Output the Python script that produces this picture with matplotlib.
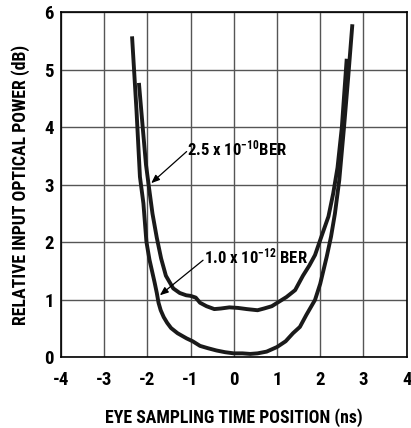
import matplotlib
matplotlib.use('Agg')
import matplotlib.pyplot as plt

fams = ['Roboto Condensed', 'Archivo Narrow', 'Liberation Sans Narrow', 'Liberation Sans', 'DejaVu Sans']
plt.rcParams['font.family'] = fams
plt.rcParams['font.weight'] = 'heavy'
plt.rcParams['axes.labelweight'] = 'heavy'
plt.rcParams['axes.unicode_minus'] = False
plt.rcParams['mathtext.fontset'] = 'custom'
plt.rcParams['mathtext.rm'] = 'Roboto Condensed:heavy'
plt.rcParams['mathtext.default'] = 'rm'

# 2.5e-10 BER curve
x_ber10 = [-2.19, -2.10, -2.03, -1.96, -1.88, -1.78, -1.68, -1.57, -1.40, -1.25,
           -1.10, -1.00, -0.88, -0.78, -0.63, -0.45, -0.30, -0.10, 0.10, 0.30,
           0.55, 0.70, 0.88, 1.05, 1.22, 1.42, 1.60, 1.75, 1.88, 2.05, 2.19,
           2.30, 2.40, 2.50, 2.61]
y_ber10 = [4.74, 3.95, 3.35, 2.95, 2.50, 2.08, 1.72, 1.42, 1.20, 1.12,
           1.08, 1.07, 1.04, 0.95, 0.89, 0.84, 0.85, 0.87, 0.86, 0.84,
           0.82, 0.85, 0.89, 0.97, 1.05, 1.17, 1.42, 1.60, 1.78, 2.15, 2.45,
           2.85, 3.30, 4.00, 5.16]

# 1.0e-12 BER curve
x_ber12 = [-2.35, -2.25, -2.17, -2.09, -2.02, -1.95, -1.89, -1.83, -1.78, -1.74,
           -1.69, -1.62, -1.54, -1.45, -1.30, -1.09, -0.95, -0.78, -0.60, -0.40,
           -0.20, 0.00, 0.20, 0.38, 0.55, 0.76, 1.00, 1.20, 1.37, 1.53, 1.68,
           1.88, 2.00, 2.15, 2.25, 2.34, 2.44, 2.55, 2.65, 2.74]
y_ber12 = [5.55, 4.30, 3.14, 2.68, 2.01, 1.70, 1.50, 1.30, 1.12, 0.95,
           0.82, 0.70, 0.60, 0.51, 0.42, 0.33, 0.28, 0.20, 0.16, 0.12,
           0.09, 0.07, 0.07, 0.06, 0.07, 0.10, 0.18, 0.28, 0.42, 0.53, 0.74,
           1.00, 1.28, 1.75, 2.10, 2.50, 3.08, 4.00, 4.90, 5.76]

xticks = [-4, -3, -2, -1, 0, 1, 2, 3, 4]
yticks = [0, 1, 2, 3, 4, 5, 6]

fig = plt.figure(figsize=(4.11, 4.28), dpi=100)
ax = fig.add_axes([0.148, 0.165, 0.8415, 0.806])
ax.set_xlim(-4, 4)
ax.set_ylim(0, 6)
ax.set_xticks(xticks)
ax.set_yticks(yticks)
ax.grid(True, color='#555555', lw=1.0)
ax.set_axisbelow(True)
for s in ax.spines.values():
    s.set_linewidth(1.2)
ax.tick_params(length=0, labelsize=13.5, pad=5)
ax.tick_params(axis='x', pad=10)
for lab in ax.get_xticklabels() + ax.get_yticklabels():
    lab.set_fontweight('heavy')

ax.plot(x_ber10, y_ber10, '-', color='#1a1a1a', lw=2.8, solid_joinstyle='round')
ax.plot(x_ber12, y_ber12, '-', color='#1a1a1a', lw=2.8, solid_joinstyle='round')

arr = dict(arrowstyle='-|>,head_length=0.5,head_width=0.2', color='black', lw=0.9,
           shrinkA=0, shrinkB=0)
ax.annotate('', xy=(-1.91, 3.03), xytext=(-1.09, 3.58), arrowprops=arr)
ax.annotate('', xy=(-1.71, 1.08), xytext=(-0.71, 1.69), arrowprops=arr)
ax.text(-1.07, 3.64, r'2.5 x 10$^{-10}$BER', fontsize=12, fontweight='heavy',
        ha='left', va='center')
ax.text(-0.69, 1.76, r'1.0 x 10$^{-12}$ BER', fontsize=12, fontweight='heavy',
        ha='left', va='center')

ax.set_xlabel('EYE SAMPLING TIME POSITION (ns)', fontsize=12.8, labelpad=14)
ax.set_ylabel('RELATIVE INPUT OPTICAL POWER (dB)', fontsize=12.8, labelpad=10)

fig.savefig('out.png', dpi=100)
